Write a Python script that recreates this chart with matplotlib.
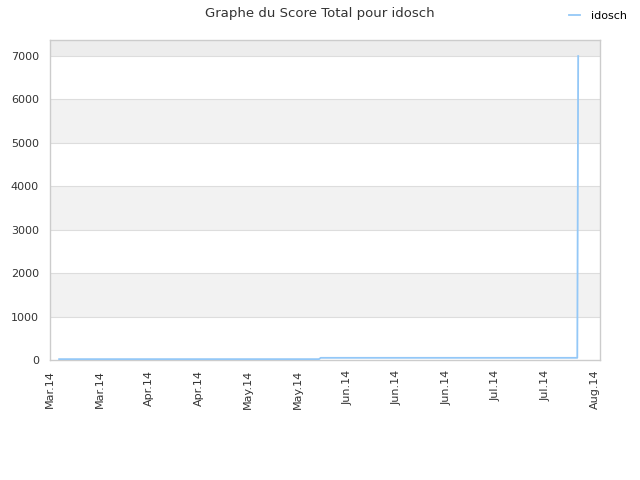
import matplotlib
matplotlib.use("Agg")
import matplotlib.pyplot as plt
import matplotlib.dates as mdates
import pandas as pd

# score total de idosch
dates = ["2014-03-12 14:00", "2014-05-25 00:00", "2014-05-25 12:00",
         "2014-08-06 00:00", "2014-08-06 06:00"]
scores = [20, 20, 50, 50, 7000]
tick_dates = pd.date_range("2014-03-10", periods=12, freq="14D")

x = pd.to_datetime(dates, format="%Y-%m-%d %H:%M")

fig = plt.figure(figsize=(6.4, 4.8), dpi=100)
ax = fig.add_axes([50 / 640, 1 - 360 / 480, 550 / 640, 320 / 480])

ymax = 7370
ax.set_ylim(0, ymax)
ax.set_xlim(pd.Timestamp("2014-03-10"), pd.Timestamp("2014-08-12 10:00"))

# bandes de fond
for i, lo in enumerate(range(0, 8000, 1000)):
    hi = min(lo + 1000, ymax)
    if lo >= ymax:
        break
    if lo == 7000:
        col = "#ededed"
    elif i % 2 == 1:
        col = "#f2f2f2"
    else:
        col = "white"
    ax.axhspan(lo, hi, color=col, zorder=0, lw=0)
for y in range(1000, 8000, 1000):
    ax.axhline(y, color="#dddddd", lw=0.8, zorder=1)

ax.plot(x, scores, color="#94c8f7", lw=1.3, zorder=3, label="idosch")

ax.set_yticks(range(0, 8000, 1000))
ax.set_xticks(tick_dates)
ax.xaxis.set_major_formatter(mdates.DateFormatter("%b.%y"))
ax.tick_params(axis="x", rotation=90, labelsize=8, colors="#333333", length=0, pad=7)
ax.tick_params(axis="y", labelsize=8, colors="#333333", length=0, pad=8)

for s in ax.spines.values():
    s.set_color("#cccccc")
    s.set_linewidth(1)

fig.suptitle("Graphe du Score Total pour idosch", y=0.985, fontsize=9.5, color="#333333")
fig.legend(loc="upper right", bbox_to_anchor=(0.995, 0.998), frameon=False,
           fontsize=8, handlelength=1.0, handletextpad=1.0)

fig.savefig("out.png", dpi=100)
